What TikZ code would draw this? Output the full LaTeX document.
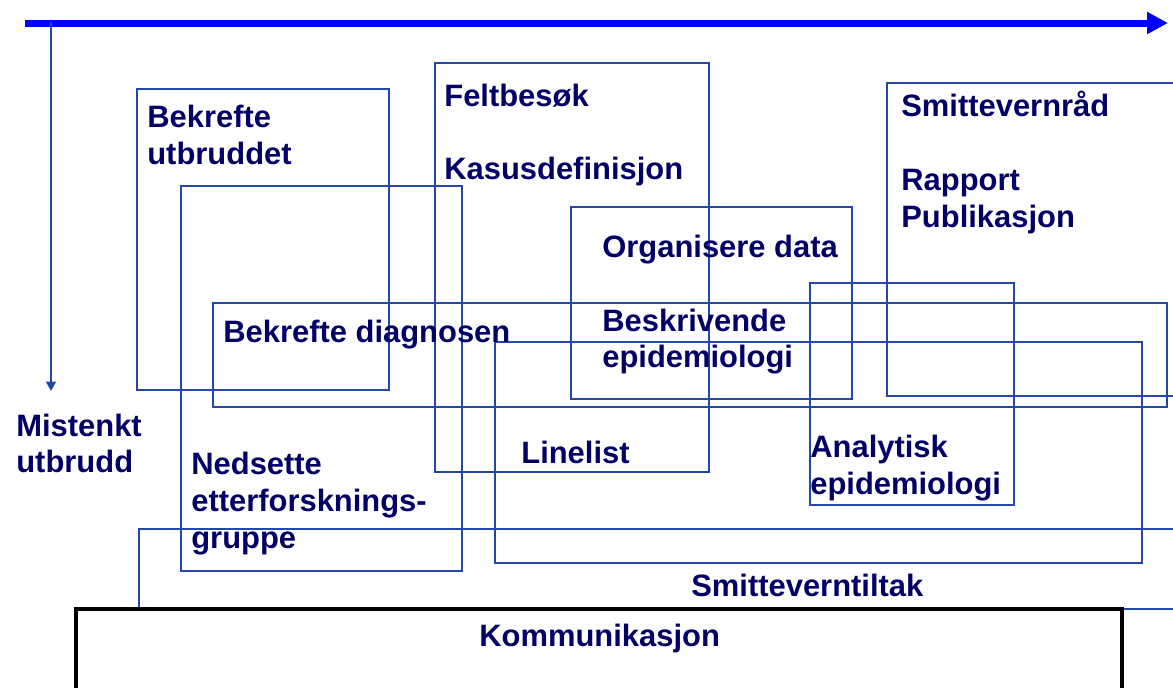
\documentclass[tikz,border=0pt]{standalone}
\usepackage{fontspec}
\setmainfont{Liberation Sans}
\usetikzlibrary{arrows.meta}
\definecolor{boxblue}{RGB}{35,72,168}
\definecolor{txtnavy}{RGB}{0,0,102}
\definecolor{arrowblue}{RGB}{0,0,255}
\tikzset{
  box/.style={draw=boxblue, line width=0.04cm},
  commbox/.style={draw=black, line width=0.065cm},
  lbl/.style={anchor=base west, inner sep=0pt, text=txtnavy,
    font=\fontsize{17.6}{21}\selectfont\bfseries},
  timearrow/.style={draw=arrowblue, line width=0.14cm,
    -{Triangle[length=0.42cm,width=0.42cm]}},
  downarrow/.style={draw=boxblue, line width=0.04cm,
    -{Triangle[length=0.19cm,width=0.2cm]}}
}
\begin{document}
\begin{tikzpicture}[x=0.02cm,y=-0.02cm]
\useasboundingbox (0,0) rectangle (1173,687);
\clip (0,0) rectangle (1173,687);

% time arrow and start arrow
\coordinate (tstart) at (25,23);
\coordinate (tend) at (1168,23);
\draw[timearrow] (tstart) -- (tend);
\coordinate (dstart) at (51,22);
\coordinate (dend) at (51,391);
\draw[downarrow] (dstart) -- (dend);

% boxes
\draw[box] (137,89) rectangle (389,390);    % Bekrefte utbruddet
\draw[box] (181,186) rectangle (462,571);   % Nedsette
\draw[box] (435,63) rectangle (709,472);    % Feltbesøk
\draw[box] (571,207) rectangle (852,399);   % Organisere data
\draw[box] (213,303) rectangle (1167,407);  % Bekrefte diagnosen
\draw[box] (887,83) rectangle (1190,396);   % Smittevernråd
\draw[box] (810,283) rectangle (1014,505);  % Analytisk
\draw[box] (495,342) rectangle (1142,563);  % Linelist
\draw[box] (139,529) rectangle (1190,609);  % Smitteverntiltak
\draw[commbox] (76,609) rectangle (1122,720); % Kommunikasjon

% labels
\node[lbl] (mist1) at (16,436) {Mistenkt};
\node[lbl] (mist2) at (16,472) {utbrudd};
\node[lbl] (bekr1) at (147,127) {Bekrefte};
\node[lbl] (bekr2) at (147,164) {utbruddet};
\node[lbl] (felt) at (444,106) {Feltbesøk};
\node[lbl] (kasus) at (444,179) {Kasusdefinisjon};
\node[lbl] (smvr) at (901,116) {Smittevernråd};
\node[lbl] (rapp) at (901,190) {Rapport};
\node[lbl] (publ) at (901,227) {Publikasjon};
\node[lbl] (org) at (602,257) {Organisere data};
\node[lbl] (besk1) at (602,331) {Beskrivende};
\node[lbl] (besk2) at (602,367) {epidemiologi};
\node[lbl] (diag) at (223,342) {Bekrefte diagnosen};
\node[lbl] (line) at (521,463) {Linelist};
\node[lbl] (anal1) at (810,457) {Analytisk};
\node[lbl] (anal2) at (810,494) {epidemiologi};
\node[lbl] (neds1) at (191,474) {Nedsette};
\node[lbl] (neds2) at (191,511) {etterforsknings-};
\node[lbl] (neds3) at (191,548) {gruppe};
\node[lbl] (tiltak) at (691,596) {Smitteverntiltak};
\node[lbl] (komm) at (479,646) {Kommunikasjon};
\end{tikzpicture}
\end{document}
